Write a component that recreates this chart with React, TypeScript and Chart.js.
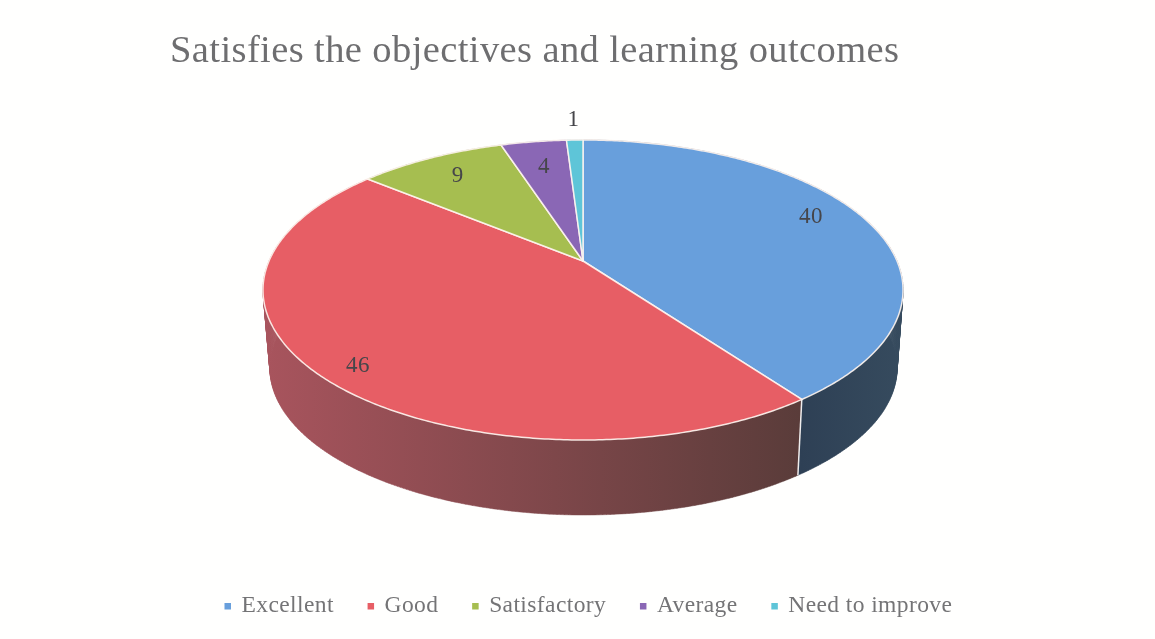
import React, { useEffect, useRef } from "react";
import { Chart, registerables } from "chart.js";

Chart.register(...registerables);

const categories = ["Excellent", "Good", "Satisfactory", "Average", "Need to improve"];
const values = [40, 46, 9, 4, 1];
const topColours = ["#689FDC", "#E75E65", "#A6BE50", "#8A67B5", "#5EC5D8"];
const sideColours = [
  ["#2E4055", "#364B5E"],
  ["#A8545D", "#5A3C3A"],
  ["#6A7A38", "#6A7A38"],
  ["#5A4578", "#5A4578"],
  ["#3D8090", "#3D8090"],
];
const labelRadius = [0.8, 0.87, 0.8, 0.76, 1.2];
const labelShift = [-10, 8, 0, 0, 0];

const FONT = "'Liberation Serif', serif";

// Tilted-disc projection of the unit circle onto the page
const P = -0.1933;
const top = { cx: 583, cy: 261, a: 314, b: 144.4 };
const bottom = { cx: 583.5, cy: 339.6, a: 307.7, b: 141.5 };
const project = (d: typeof top, u: number, v: number): [number, number] => {
  const w = 1 + P * v;
  return [d.cx + (d.a * u) / w, d.cy + (d.b * v) / w];
};
const arcPoints = (d: typeof top, s: number, e: number) => {
  const n = Math.max(2, Math.ceil((e - s) / 0.01));
  const pts: [number, number][] = [];
  for (let i = 0; i <= n; i++) {
    const t = s + ((e - s) * i) / n;
    pts.push(project(d, Math.cos(t), Math.sin(t)));
  }
  return pts;
};

const tiltedPie = {
  id: "tiltedPie",
  beforeUpdate(chart: any) {
    chart.ctx.letterSpacing = "0.4px";
  },
  beforeDatasetDraw(chart: any) {
    const ctx: CanvasRenderingContext2D = chart.ctx;
    const arcs = chart.getDatasetMeta(0).data;
    ctx.save();
    // sides: the swept surface between the top rim and the bottom rim
    arcs.forEach((el: any, i: number) => {
      const t = arcPoints(top, el.startAngle, el.endAngle);
      const b = arcPoints(bottom, el.startAngle, el.endAngle);
      const g = ctx.createLinearGradient(i === 0 ? 800 : 265, 0, i === 0 ? 903 : 800, 0);
      g.addColorStop(0, sideColours[i][0]);
      g.addColorStop(1, sideColours[i][1]);
      ctx.fillStyle = g;
      ctx.beginPath();
      for (let k = 0; k + 1 < t.length; k++) {
        ctx.moveTo(t[k][0], t[k][1]);
        ctx.lineTo(t[k + 1][0], t[k + 1][1]);
        ctx.lineTo(b[k + 1][0], b[k + 1][1]);
        ctx.lineTo(b[k][0], b[k][1]);
        ctx.closePath();
      }
      ctx.fill("nonzero");
      ctx.strokeStyle = g;
      ctx.lineWidth = 0.5;
      ctx.stroke();
    });
    // side seams
    ctx.strokeStyle = "rgba(255,255,255,0.9)";
    ctx.lineWidth = 1.5;
    arcs.forEach((el: any) => {
      const s = Math.sin(el.startAngle);
      if (s <= 0) return;
      const [x0, y0] = project(top, Math.cos(el.startAngle), s);
      const [x1, y1] = project(bottom, Math.cos(el.startAngle), s);
      ctx.beginPath();
      ctx.moveTo(x0, y0);
      ctx.lineTo(x1, y1);
      ctx.stroke();
    });
    // top face
    arcs.forEach((el: any, i: number) => {
      const pts = arcPoints(top, el.startAngle, el.endAngle);
      ctx.fillStyle = topColours[i];
      ctx.beginPath();
      ctx.moveTo(top.cx, top.cy);
      pts.forEach(([x, y]) => ctx.lineTo(x, y));
      ctx.closePath();
      ctx.fill();
      ctx.strokeStyle = "rgba(255,245,240,0.9)";
      ctx.lineWidth = 1.5;
      ctx.lineJoin = "round";
      ctx.stroke();
    });
    // value labels
    ctx.fillStyle = "#46464A";
    ctx.font = `23px ${FONT}`;
    ctx.textAlign = "center";
    ctx.textBaseline = "middle";
    arcs.forEach((el: any, i: number) => {
      const m = (el.startAngle + el.endAngle) / 2;
      const f = labelRadius[i];
      const [x, y] = project(top, f * Math.cos(m), f * Math.sin(m));
      ctx.fillText(String(values[i]), x, y + labelShift[i]);
    });
    ctx.restore();
    return false;
  },
};

export default function App() {
  const ref = useRef<HTMLCanvasElement>(null);
  useEffect(() => {
    const chart = new Chart(ref.current!, {
      type: "pie",
      data: {
        labels: categories,
        datasets: [{ data: values, backgroundColor: topColours, borderWidth: 0 }],
      },
      options: {
        animation: false,
        responsive: false,
        layout: { padding: { left: 170, right: 147, top: 0, bottom: 11 } },
        plugins: {
          tooltip: { enabled: false },
          title: {
            display: true,
            text: "Satisfies the objectives and learning outcomes",
            align: "start",
            color: "#6E6E70",
            font: { family: FONT, size: 38.5, weight: "normal" },
            padding: { top: 29, bottom: 20 },
          },
          legend: {
            position: "bottom",
            labels: {
              color: "#747476",
              font: { family: FONT, size: 23.5 },
              usePointStyle: true,
              pointStyle: "rect",
              boxHeight: 6.5,
              boxWidth: 4,
              padding: 35,
            },
          },
        },
      },
      plugins: [tiltedPie],
    } as any);
    return () => chart.destroy();
  }, []);
  return (
    <div style={{ position: "fixed", left: 0, top: 0, width: 1155, height: 639, background: "#FFFFFE" }}>
      <canvas ref={ref} width={1155} height={639} style={{ display: "block" }} />
    </div>
  );
}
